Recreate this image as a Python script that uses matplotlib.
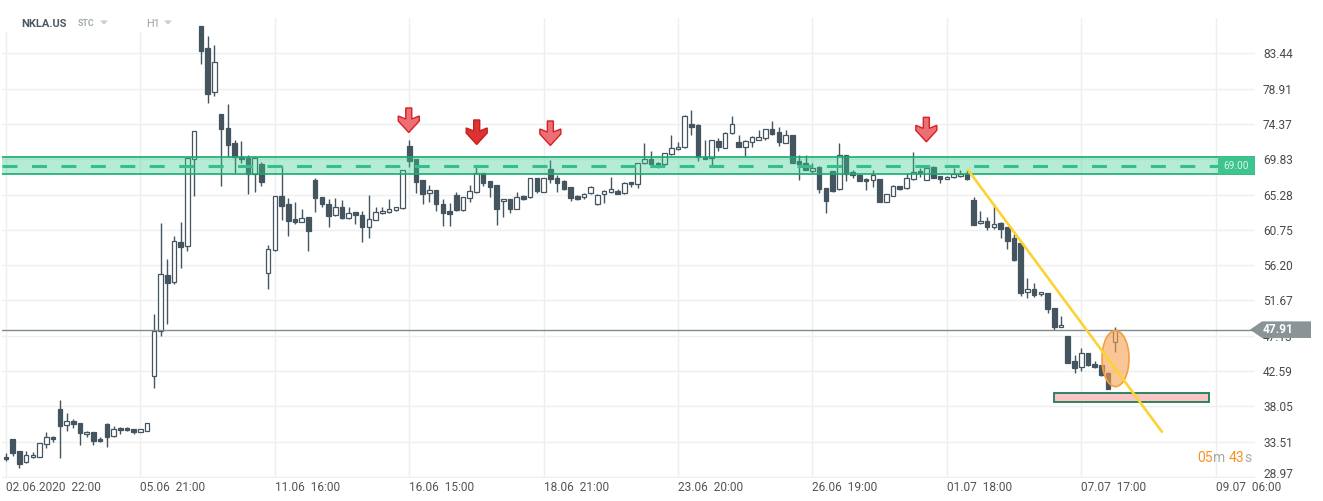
import matplotlib
matplotlib.use("Agg")
import matplotlib.pyplot as plt
import matplotlib.patches as mpatches
import matplotlib.transforms as mtransforms
import numpy as np

plt.rcParams['font.family'] = ['Roboto', 'DejaVu Sans']
plt.rcParams['lines.scale_dashes'] = False

# ---------------- data (H1 candles) ----------------
symbol = "NKLA.US"
opens = [
    31.51, 33.83, 32.32, 30.91, 31.51, 31.59, 33.18, 34.16, 37.68, 35.63,
    36.14, 35.88, 34.47, 34.73, 33.83, 35.79, 34.25, 35.28, 35.24, 35.11,
    34.73, 34.86, 41.96, 47.79, 54.91, 54.08, 59.19, 58.71, 69.82, 86.95,
    84.08, 78.43, 75.60, 73.80, 71.87, 70.15, 70.02, 67.93, 69.21, 55.16,
    58.16, 65.10, 64.07, 62.10, 61.72, 62.36, 67.15, 64.97, 64.07, 62.62,
    63.65, 62.23, 63.00, 62.62, 61.15, 61.98, 62.87, 63.00, 63.26, 63.52,
    71.52, 69.85, 67.15, 65.45, 65.87, 64.07, 63.13, 65.23, 63.34, 64.80,
    65.57, 68.05, 66.99, 66.51, 64.42, 64.71, 63.47, 65.06, 64.93, 67.37,
    65.65, 68.57, 67.37, 67.03, 66.22, 65.06, 64.93, 65.45, 64.07, 65.32,
    65.57, 65.74, 65.45, 66.90, 66.64, 69.30, 69.82, 69.38, 69.17, 70.46,
    71.10, 71.36, 74.35, 74.22, 70.15, 69.94, 72.21, 71.31, 73.16, 72.08,
    71.43, 72.08, 72.33, 72.51, 73.67, 73.29, 71.95, 72.94, 69.60, 69.30,
    68.31, 68.86, 66.09, 68.31, 65.96, 70.37, 68.15, 67.80, 67.28, 67.12,
    67.24, 64.37, 65.14, 66.38, 66.09, 67.24, 68.31, 67.12, 68.86, 67.67,
    67.32, 67.50, 67.63, 67.89, 64.58, 61.58, 61.88, 61.15, 61.67, 61.08,
    59.66, 59.02, 52.80, 53.11, 52.46, 52.59, 50.70, 48.22, 47.10, 43.89,
    43.08, 44.88, 43.47, 43.38, 42.31, 46.37]
highs = [
    32.07, 33.83, 32.32, 32.36, 32.16, 33.40, 34.76, 34.25, 38.88, 37.17,
    36.40, 35.95, 34.93, 34.80, 34.08, 35.96, 35.54, 35.45, 35.37, 35.20,
    35.15, 35.96, 49.93, 61.67, 56.96, 59.96, 61.80, 69.94, 73.41, 86.95,
    85.66, 84.51, 75.60, 76.92, 72.30, 72.21, 70.37, 70.10, 69.51, 58.76,
    65.10, 68.99, 64.80, 64.29, 63.39, 62.40, 67.37, 65.00, 64.71, 64.80,
    64.60, 63.65, 63.05, 63.17, 65.23, 63.72, 63.65, 64.71, 63.70, 68.45,
    72.30, 69.90, 67.20, 66.51, 65.90, 64.67, 64.16, 65.57, 65.00, 66.47,
    68.95, 68.10, 67.07, 66.55, 64.70, 64.75, 65.57, 65.23, 67.40, 67.40,
    67.40, 69.73, 67.80, 67.10, 66.25, 65.23, 65.52, 66.35, 65.30, 65.87,
    67.50, 65.96, 66.85, 66.95, 69.40, 71.95, 70.88, 69.45, 70.65, 72.94,
    72.08, 75.50, 76.15, 74.30, 72.30, 72.35, 72.52, 73.36, 75.42, 72.94,
    72.25, 72.81, 73.58, 73.70, 74.74, 74.01, 73.58, 73.00, 70.37, 70.37,
    69.30, 68.90, 66.15, 68.35, 71.87, 70.40, 68.44, 67.85, 67.37, 68.44,
    67.30, 65.35, 66.51, 66.40, 68.02, 70.72, 68.66, 68.80, 68.90, 67.70,
    67.65, 68.66, 68.44, 68.44, 65.01, 63.17, 62.44, 64.07, 61.70, 61.10,
    60.17, 59.10, 54.60, 53.88, 52.75, 52.65, 50.75, 49.71, 47.15, 44.66,
    45.52, 44.95, 43.89, 43.40, 42.51, 48.30]
lows = [
    31.04, 31.68, 30.18, 30.74, 31.45, 31.55, 32.75, 33.52, 31.46, 34.93,
    35.32, 33.13, 34.08, 33.06, 33.50, 32.88, 34.16, 34.47, 34.89, 34.47,
    34.70, 34.86, 40.46, 47.14, 48.65, 53.79, 55.81, 58.07, 65.14, 82.03,
    77.09, 77.99, 66.42, 70.07, 68.09, 69.30, 65.32, 65.65, 66.42, 53.11,
    58.00, 62.02, 59.99, 61.50, 61.70, 58.07, 63.08, 63.65, 61.08, 62.55,
    62.20, 62.20, 61.54, 59.22, 59.66, 61.95, 62.74, 62.87, 63.13, 63.45,
    68.86, 65.45, 64.11, 64.37, 63.21, 61.28, 61.24, 63.17, 63.21, 64.37,
    65.45, 66.42, 65.01, 61.37, 62.36, 62.87, 63.40, 64.59, 64.90, 65.52,
    65.60, 66.73, 65.65, 65.87, 64.49, 64.59, 64.71, 65.40, 64.00, 64.16,
    65.50, 65.30, 65.40, 66.22, 66.17, 69.25, 69.10, 68.66, 69.10, 70.40,
    71.05, 71.30, 72.94, 69.64, 69.85, 68.99, 70.92, 71.25, 73.10, 71.40,
    70.28, 71.43, 72.30, 72.30, 73.00, 71.56, 71.90, 69.35, 67.15, 68.40,
    68.09, 65.52, 62.95, 65.61, 65.90, 67.07, 67.37, 67.00, 65.87, 66.22,
    64.30, 64.30, 65.10, 65.90, 66.05, 67.20, 67.50, 67.10, 67.40, 66.73,
    67.30, 67.45, 67.60, 67.20, 61.35, 61.55, 60.73, 60.90, 59.74, 58.29,
    56.80, 52.28, 51.95, 52.16, 52.24, 50.10, 47.88, 48.20, 43.60, 42.31,
    42.64, 43.30, 42.95, 41.96, 40.30, 45.09]
closes = [
    31.26, 32.10, 30.61, 31.77, 31.77, 33.31, 34.16, 33.90, 35.57, 36.14,
    35.75, 34.60, 34.73, 33.65, 33.57, 34.16, 35.19, 35.02, 35.02, 34.76,
    35.11, 35.96, 47.75, 55.03, 53.95, 59.31, 58.58, 69.94, 73.41, 83.77,
    78.17, 82.36, 73.67, 71.69, 70.15, 69.82, 67.93, 69.98, 66.94, 58.25,
    65.10, 63.85, 61.93, 61.72, 62.23, 60.64, 64.88, 64.03, 62.57, 63.65,
    62.23, 62.95, 62.70, 61.15, 62.10, 63.00, 63.13, 63.43, 63.65, 68.40,
    69.64, 66.94, 65.36, 65.87, 64.11, 62.95, 62.82, 63.30, 64.93, 65.78,
    68.05, 66.81, 66.29, 63.47, 64.67, 63.47, 65.01, 64.71, 67.37, 65.78,
    67.37, 67.24, 66.81, 66.04, 64.88, 64.75, 65.39, 66.29, 65.23, 65.74,
    65.96, 65.32, 66.81, 66.60, 69.38, 69.82, 69.17, 69.08, 70.59, 71.23,
    71.43, 75.38, 74.00, 70.07, 69.89, 72.30, 71.43, 73.16, 74.31, 71.43,
    72.21, 72.64, 72.64, 73.67, 73.07, 72.08, 72.94, 69.38, 69.17, 68.44,
    68.66, 65.96, 64.49, 65.78, 70.37, 67.93, 67.80, 67.07, 67.03, 67.80,
    64.37, 65.32, 66.38, 65.96, 67.37, 68.22, 68.02, 68.74, 67.45, 67.32,
    67.58, 67.93, 67.89, 67.24, 61.41, 61.88, 61.15, 61.50, 60.86, 59.35,
    56.87, 52.67, 53.11, 52.41, 52.72, 50.54, 48.30, 48.52, 43.67, 43.03,
    44.88, 43.34, 43.16, 42.09, 40.33, 47.91]

xtick_pos = [0, 20, 40, 60, 80, 100, 120, 140, 160, 180]
xtick_labels = ["02.06.2020  22:00", "05.06  21:00", "11.06  16:00", "16.06  15:00",
                "18.06  21:00", "23.06  20:00", "26.06  19:00", "01.07  18:00",
                "07.07  17:00", "09.07  06:00"]
ytick_vals = [28.97, 33.51, 38.05, 42.59, 47.13, 51.67, 56.20, 60.75,
              65.28, 69.83, 74.37, 78.91, 83.44]

last_price = 47.91
resist_level = 69.00
resist_zone = (67.90, 70.10)
support_zone = (38.58, 39.74)
support_span = (156.0, 179.07)
trend_x = [143.05, 172.1]
trend_y = [68.57, 34.68]
arrow_idx = [59.93, 70.04, 81.0, 136.95]
arrow_top = [76.41, 74.87, 74.74, 75.21]
arrow_strong = [False, True, False, False]
ellipse_xy = (165.1, 44.19)
countdown = [("05", True), ("m", False), (" ", False), ("43", True), ("s", False)]

# ---------------- figure ----------------
W, H = 1323, 501
fig = plt.figure(figsize=(W / 100, H / 100), dpi=100)
fig.patch.set_facecolor('white')
ax = fig.add_axes([2 / W, 23 / H, 1253 / W, 460 / H])
x_min, x_max = -0.6, 185.86
y_min, y_max = 28.84, 87.98
ax.set_xlim(x_min, x_max)
ax.set_ylim(y_min, y_max)
px_x = 1253 / (x_max - x_min)   # pixels per candle
px_y = 460 / (y_max - y_min)    # pixels per price unit

for s in ax.spines.values():
    s.set_visible(False)
ax.set_axisbelow(True)
ax.grid(color='#efefef', lw=1)

ax.set_xticks(xtick_pos, xtick_labels)
for t in ax.get_xticklabels():
    t.set_horizontalalignment('left')
ax.tick_params(axis='x', length=0, pad=2.5, labelsize=8.6, labelcolor='#555555')
ax.yaxis.tick_right()
ax.set_yticks(ytick_vals, ["%.2f" % v for v in ytick_vals])
ax.tick_params(axis='y', length=0, pad=5.8, labelsize=8.6, labelcolor='#4a4a4a')
# lowest price label sits a little above its grid line
lowlab = ax.get_yticklabels()[0]
lowlab.set_transform(lowlab.get_transform() +
                     mtransforms.ScaledTranslation(0, 4 / 100, fig.dpi_scale_trans))

# white box behind the header
ax.add_patch(mpatches.Rectangle((0, 1 - 14 / 460), 188 / 1253, 14 / 460,
                                transform=ax.transAxes, facecolor='white',
                                edgecolor='none', zorder=1))

# candles
CANDLE = '#455560'
idx = np.arange(len(opens))
o = np.array(opens)
c = np.array(closes)
up = c >= o
ax.vlines(idx, lows, highs, color=CANDLE, lw=1.0, zorder=2)
bottoms = np.minimum(o, c)
heights = np.maximum(np.abs(c - o), 0.22)
faces = ['white' if u else CANDLE for u in up]
ax.bar(idx, heights, bottom=bottoms, width=0.68, color=faces,
       edgecolor=CANDLE, lw=0.9, zorder=3)

# resistance zone
ax.axhspan(resist_zone[0], resist_zone[1], facecolor='#3ccf91', alpha=0.38, lw=0, zorder=4)
for yv in resist_zone:
    ax.axhline(yv, color='#19aa70', lw=1.2, zorder=5)
box_left = (1218 - 6) / 6.72
ax.plot([x_min, box_left], [resist_level, resist_level], color='#35c08a', lw=2.2,
        ls=(0, (10.8, 10.4)), zorder=5)
ax.add_patch(mpatches.Rectangle((box_left, resist_zone[0]), x_max - box_left,
                                resist_zone[1] - resist_zone[0],
                                facecolor='#3ec48e', edgecolor='none', zorder=5))
ax.text((box_left + x_max) / 2, resist_level, "%.2f" % resist_level, ha='center',
        va='center', fontsize=7.3, color='#d9f5e9', zorder=6)

# last price line
ax.axhline(last_price, color='#7f8b8f', lw=1, zorder=6)

# support box
ax.add_patch(mpatches.Rectangle((support_span[0], support_zone[0]),
                                support_span[1] - support_span[0],
                                support_zone[1] - support_zone[0],
                                facecolor='#f9c4c4', edgecolor='#1c7d56', lw=1.3, zorder=6))

# ellipse highlight
ax.add_patch(mpatches.Ellipse(ellipse_xy, 27 / px_x, 56 / px_y,
                              facecolor=(247 / 255, 160 / 255, 80 / 255, 0.6),
                              edgecolor='#f2a040', lw=1.2, zorder=7))

# trend line
ax.plot(trend_x, trend_y, color='#fcd333', lw=1.9, zorder=8, solid_capstyle='butt')

# arrows (shape in pixels, relative to top centre)
shape = [(-3, 0), (3, 0), (3, 11), (10.5, 8), (10.5, 13), (0, 24.5),
         (-10.5, 13), (-10.5, 8), (-3, 11)]
for ax_i, top, strong in zip(arrow_idx, arrow_top, arrow_strong):
    pts = [(ax_i + dx / px_x, top - dy / px_y) for dx, dy in shape]
    if strong:
        fc, ec = '#dc3232', '#c81e1e'
    else:
        fc, ec = '#ec6f73', '#d61f26'
    ax.add_patch(mpatches.Polygon(pts, closed=True, facecolor=fc, edgecolor=ec,
                                  lw=1.0, zorder=9))

# price tag at right
tr = mtransforms.blended_transform_factory(fig.transFigure, ax.transData)
d = 8.3 / px_y
tag = [(1250 / W, last_price), (1262 / W, last_price + d), (1311 / W, last_price + d),
       (1311 / W, last_price - d), (1262 / W, last_price - d)]
ax.add_patch(mpatches.Polygon(tag, closed=True, transform=tr, facecolor='#8a9396',
                              edgecolor='none', clip_on=False, zorder=10))
ax.text(1263 / W, last_price, "%.2f" % last_price, transform=tr, ha='left', va='center',
        fontsize=8.6, fontweight='bold', color='white', clip_on=False, zorder=11)

# header
fy = 1 - 24 / H
fig.text(21 / W, fy, symbol, fontsize=8, fontweight='bold', color='#4b5963', va='center')
fig.text(78 / W, fy, "STC", fontsize=6.3, fontweight='bold', color='#a3abb0', va='center')
fig.text(146 / W, fy, "H1", fontsize=7.8, color='#98a2a8', va='center')
for x0 in (100, 164):
    tri = [(x0 / W, 1 - 20.5 / H), ((x0 + 8) / W, 1 - 20.5 / H), ((x0 + 4) / W, 1 - 24.5 / H)]
    fig.patches.append(mpatches.Polygon(tri, closed=True, transform=fig.transFigure,
                                        facecolor='#c4cacd', edgecolor='none'))

# countdown, laid out piece by piece
renderer = fig.canvas.get_renderer()
ty = 1 - 458 / H
xp = 1197.0
for txt, hot in countdown:
    t = fig.text(xp / W, ty, txt, fontsize=10, va='center', ha='left',
                 color='#f7931e' if hot else '#aaaaaa')
    if txt == " ":
        xp += 4
    else:
        xp += t.get_window_extent(renderer).width

fig.savefig("out.png", dpi=100)
